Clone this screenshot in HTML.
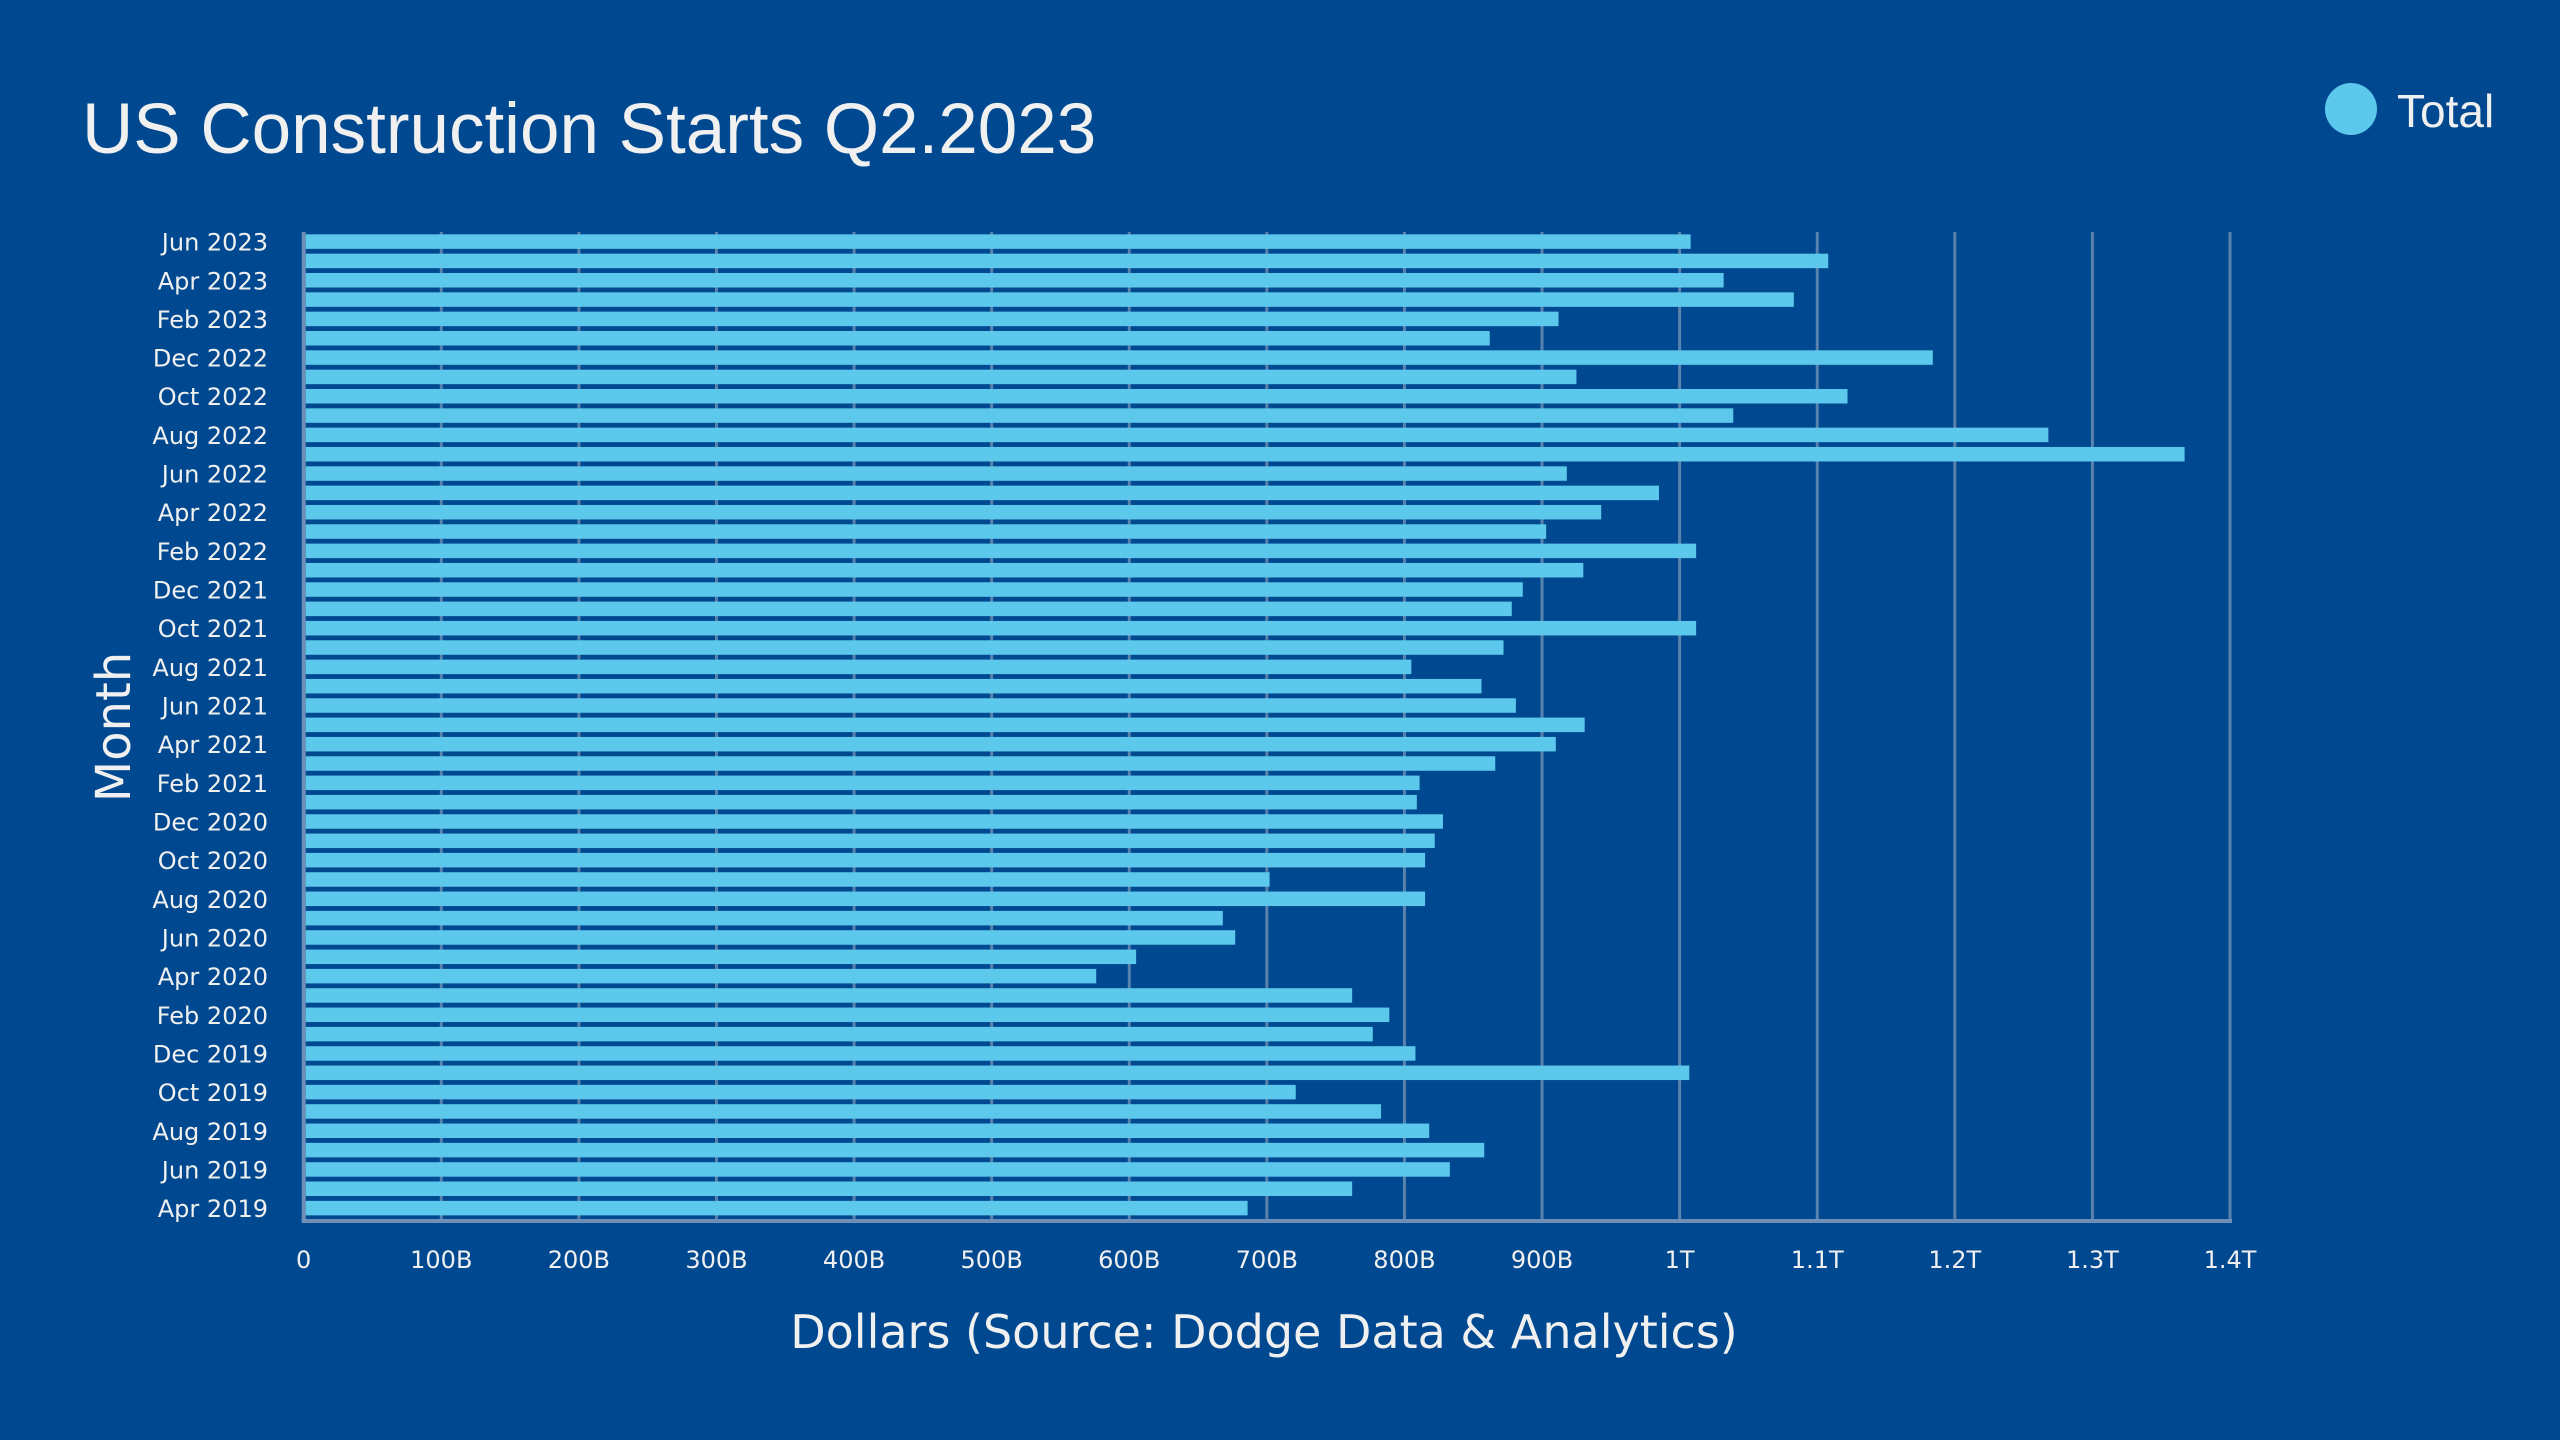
<!DOCTYPE html>
<html><head><meta charset="utf-8"><style>
html,body{margin:0;padding:0;background:#004990;}
svg{display:block;font-family:"DejaVu Sans","Liberation Sans",sans-serif;}
</style></head><body>
<svg id="chart" width="2560" height="1440" viewBox="0 0 2560 1440">
<rect width="2560" height="1440" fill="#004990"/>
<text x="82" y="153" font-family="Liberation Sans, sans-serif" font-size="71" fill="#f0f0f0">US Construction Starts Q2.2023</text>
<g>
<circle cx="2351" cy="109" r="26" fill="#5bc8ec"/>
<text x="2397" y="127" font-family="Liberation Sans, sans-serif" font-size="46" fill="#f0f0f0">Total</text>
</g>
<g id="grid"></g>
<g id="bars"></g>
<g id="ylabels"></g>
<g id="xlabels"></g>
<text x="1264" y="1348" text-anchor="middle" font-size="46" fill="#f0f0f0">Dollars (Source: Dodge Data &amp; Analytics)</text>
<text transform="translate(130,727) rotate(-90)" text-anchor="middle" font-size="48" fill="#f0f0f0">Month</text>
</svg>
<script>
const months = ["Jun 2023","May 2023","Apr 2023","Mar 2023","Feb 2023","Jan 2023","Dec 2022","Nov 2022","Oct 2022","Sep 2022","Aug 2022","Jul 2022","Jun 2022","May 2022","Apr 2022","Mar 2022","Feb 2022","Jan 2022","Dec 2021","Nov 2021","Oct 2021","Sep 2021","Aug 2021","Jul 2021","Jun 2021","May 2021","Apr 2021","Mar 2021","Feb 2021","Jan 2021","Dec 2020","Nov 2020","Oct 2020","Sep 2020","Aug 2020","Jul 2020","Jun 2020","May 2020","Apr 2020","Mar 2020","Feb 2020","Jan 2020","Dec 2019","Nov 2019","Oct 2019","Sep 2019","Aug 2019","Jul 2019","Jun 2019","May 2019","Apr 2019"];
const totals = [1008,1108,1032,1083,912,862,1184,925,1122,1039,1268,1367,918,985,943,903,1012,930,886,878,1012,872,805,856,881,931,910,866,811,809,828,822,815,702,815,668,677,605,576,762,789,777,808,1007,721,783,818,858,833,762,686];
const tickValues = [0,100,200,300,400,500,600,700,800,900,1000,1100,1200,1300,1400];
const tickLabels = ["0","100B","200B","300B","400B","500B","600B","700B","800B","900B","1T","1.1T","1.2T","1.3T","1.4T"];

const NS="http://www.w3.org/2000/svg";
const x0=303.7, x1=2230, plotTop=232, plotBottom=1221;
const rowTop=241.6, rowPitch=19.33, barH=14.5;
const xScale = v => x0 + v/1400*(x1-x0);
const yScale = i => rowTop + i*rowPitch;
function mk(tag, attrs, parent){const e=document.createElementNS(NS,tag);for(const k in attrs)e.setAttribute(k,attrs[k]);parent.appendChild(e);return e;}
const grid=document.getElementById('grid'), bars=document.getElementById('bars'), yl=document.getElementById('ylabels'), xl=document.getElementById('xlabels');
tickValues.forEach((v,i)=>{
  const x=xScale(v);
  if(i>0){
    const l=mk('line',{x1:x,x2:x,y1:plotTop,y2:plotBottom,stroke:'#5a82ae','stroke-width':3},grid);
    
    
  }
  const t=mk('text',{x:x,y:1268,'text-anchor':'middle','font-size':24,fill:'#f0f0f0'},xl);
  t.textContent=tickLabels[i];
  
  
});
const ax=mk('line',{x1:x0,x2:x0,y1:plotTop,y2:plotBottom,stroke:'#6f8fb6','stroke-width':4},grid);


const bx=mk('line',{x1:x0-2,x2:x1+2,y1:plotBottom,y2:plotBottom,stroke:'#6f8fb6','stroke-width':4},grid);


months.forEach((m,i)=>{
  const cy=yScale(i);
  const r=mk('rect',{x:x0+2,y:cy-barH/2,width:Math.max(0,xScale(totals[i])-x0-2),height:barH,fill:'#5bc8ec'},bars);
  
  
  if(i%2===0){
    const t=mk('text',{x:268,y:cy+9,'text-anchor':'end','font-size':24,fill:'#f0f0f0'},yl);
    t.textContent=m;
    
    
  }
});
</script>
</body></html>
